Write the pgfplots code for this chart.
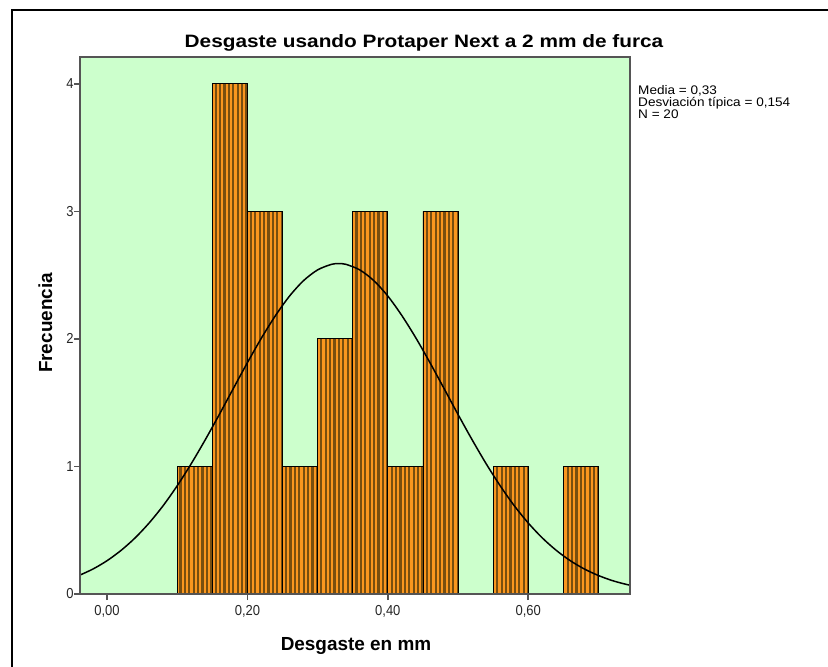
\documentclass[border=0pt]{standalone}
\usepackage{pgfplots}
\pgfplotsset{compat=1.18}
\usepackage{fontspec}
\setmainfont{Liberation Sans}
\usepackage{graphicx}
\usetikzlibrary{patterns.meta}
\definecolor{plotbg}{RGB}{204,255,204}
\definecolor{barorange}{RGB}{250,150,30}
\definecolor{barstripe}{RGB}{120,78,15}
\definecolor{axisgray}{RGB}{85,85,85}
\begin{document}
\begin{tikzpicture}[x=1bp,y=1bp]
\useasboundingbox (0,0) rectangle (828,-667);
\draw[line width=1.5] (12,-670) -- (12,-10) -- (830,-10);
\begin{axis}[
  at={(80bp,-594bp)}, anchor=south west,
  scale only axis, width=550bp, height=537bp,
  xmin=-0.0385, xmax=0.745, ymin=0, ymax=4.21,
  axis background/.style={fill=plotbg},
  axis line style={axisgray, line width=1.5bp},
  tick style={axisgray, line width=1.5bp},
  major tick length=6bp,
  tick align=outside,
  xtick pos=left, ytick pos=left,
  xtick={0,0.2,0.4,0.6}, ytick={0,1,2,3,4},
  xticklabel={\scalebox{0.9}[1]{\pgfmathprintnumber[use comma, fixed, fixed zerofill, precision=2, assume math mode=true]{\tick}}},
  yticklabel={\scalebox{0.9}[1]{\pgfmathprintnumber[assume math mode=true]{\tick}}},
  tick label style={font=\fontsize{14.5}{14.5}\selectfont, text=black!85},
  xticklabel style={yshift=-2bp},
  yticklabel style={xshift=3bp},
  axis on top,
]
\addplot[ybar interval, draw=black, line width=0.8bp,
  preaction={fill=barorange},
  pattern={Lines[angle=90,distance=4.4bp,line width=2.2bp]}, pattern color=barstripe]
  coordinates {(0.10,1) (0.15,4) (0.20,3) (0.25,1) (0.30,2) (0.35,3) (0.40,1) (0.45,3) (0.50,0) (0.55,1) (0.60,0) (0.65,1) (0.70,0)};
\addplot[black, line width=1.5bp, smooth, no marks] coordinates {
(-0.04,0.145) (-0.02,0.196) (0.00,0.261) (0.02,0.342) (0.04,0.440) (0.06,0.557) (0.08,0.693)
(0.10,0.849) (0.12,1.022) (0.14,1.210) (0.16,1.408) (0.18,1.612) (0.20,1.814) (0.22,2.007)
(0.24,2.183) (0.26,2.336) (0.28,2.457) (0.30,2.541) (0.32,2.585) (0.33,2.590) (0.34,2.585)
(0.36,2.541) (0.38,2.457) (0.40,2.336) (0.42,2.183) (0.44,2.007) (0.46,1.814) (0.48,1.612)
(0.50,1.408) (0.52,1.210) (0.54,1.022) (0.56,0.849) (0.58,0.693) (0.60,0.557) (0.62,0.440)
(0.64,0.342) (0.66,0.261) (0.68,0.196) (0.70,0.145) (0.72,0.105) (0.74,0.075) (0.76,0.053)};
\end{axis}
\node[anchor=base, inner sep=0] at (424,-48) {\scalebox{1.16}[1]{\fontsize{18}{20}\selectfont\bfseries Desgaste usando Protaper Next a 2 mm de furca}};
\node[anchor=base, inner sep=0] at (356,-650) {\fontsize{19}{20}\selectfont\bfseries Desgaste en mm};
\node[anchor=base, inner sep=0, rotate=90] at (52,-323) {\fontsize{19}{20}\selectfont\bfseries Frecuencia};
\node[anchor=base west, inner sep=0] at (638,-95) {\scalebox{1.09}[1]{\fontsize{12.5}{12}\selectfont Media = 0,33}};
\node[anchor=base west, inner sep=0] at (638,-107) {\scalebox{1.09}[1]{\fontsize{12.5}{12}\selectfont Desviación típica = 0,154}};
\node[anchor=base west, inner sep=0] at (638,-119) {\scalebox{1.09}[1]{\fontsize{12.5}{12}\selectfont N = 20}};
\end{tikzpicture}
\end{document}
